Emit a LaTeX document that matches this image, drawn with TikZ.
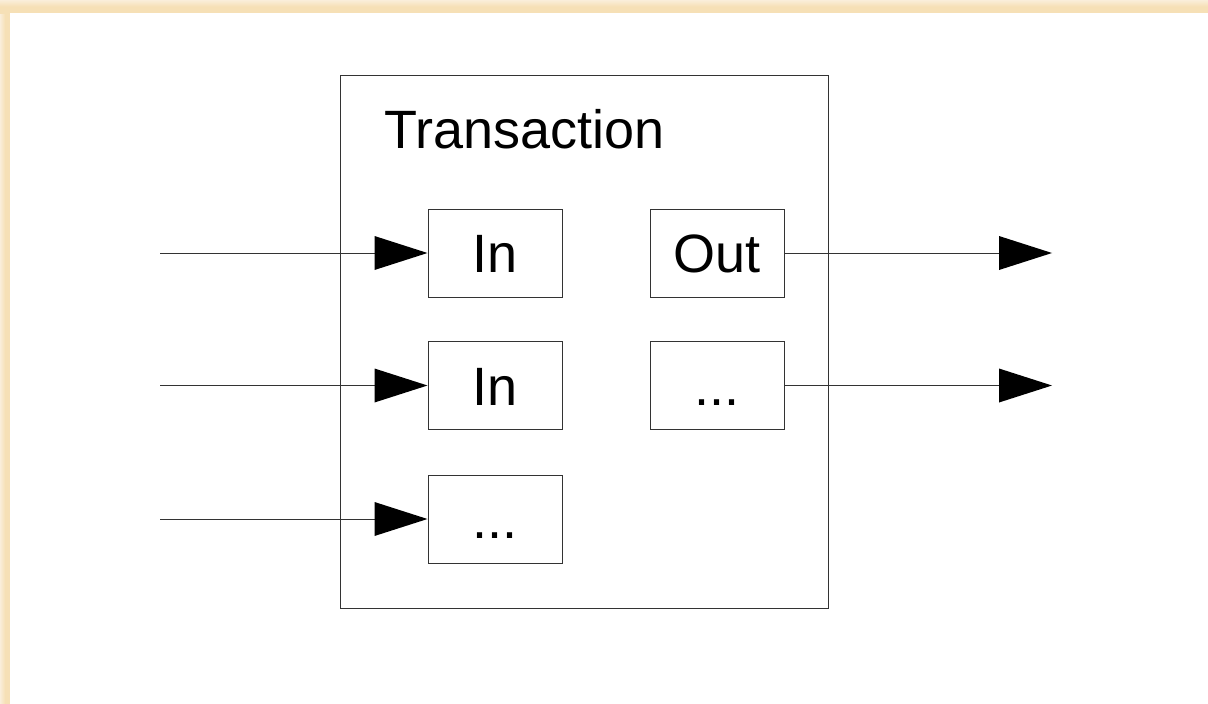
\documentclass[tikz,border=0pt]{standalone}
\usepackage{fontspec}
\setmainfont{Liberation Sans}
\usetikzlibrary{arrows.meta}
\definecolor{beigeout}{HTML}{FAEEDA}
\definecolor{beigein}{HTML}{F6E0B6}
\definecolor{linec}{HTML}{333333}
\tikzset{
  port/.style={draw=linec, line width=1pt, rectangle, minimum width=134pt, minimum height=88pt,
    inner sep=0pt, font=\fontsize{54}{60}\selectfont, text height=39pt, text depth=0pt},
  flow/.style={draw=linec, line width=1pt, -{Triangle[length=53pt,width=34pt,fill=black,line width=0pt]}}
}
\begin{document}
\begin{tikzpicture}[x=1pt,y=-1pt]
\useasboundingbox (0,0) rectangle (1208,704);
% background frame
\fill[beigein] (0,0) rectangle (1208,704);
\shade[left color=beigeout, right color=beigein, middle color=beigein] (0,0) rectangle (10,704);
\shade[top color=beigeout, bottom color=beigein, middle color=beigein] (0,0) rectangle (1208,13);
\fill[white] (10,13) rectangle (1208,704);
% transaction box
\node[draw=linec, line width=1pt, rectangle, minimum width=488pt, minimum height=533pt, inner sep=0pt] (tx) at (584,341.5) {};
\node[anchor=base west, inner sep=0pt, font=\fontsize{54}{60}\selectfont] (title) at (384,148) {Transaction};
% ports
\node[port] (in1) at (495,253) {In};
\node[port] (out1) at (717,253) {Out};
\node[port] (in2) at (495,385.5) {In};
\node[port] (out2) at (717,385.5) {...};
\node[port] (in3) at (495,519) {...};
% free ends
\coordinate (s1) at (160,253);
\coordinate (s2) at (160,385.5);
\coordinate (s3) at (160,519);
\coordinate (e1) at (1052,253);
\coordinate (e2) at (1052,385.5);
% connectors
\draw[flow] (s1) -- (in1.west);
\draw[flow] (s2) -- (in2.west);
\draw[flow] (s3) -- (in3.west);
\draw[flow] (out1.east) -- (e1);
\draw[flow] (out2.east) -- (e2);
\end{tikzpicture}
\end{document}
